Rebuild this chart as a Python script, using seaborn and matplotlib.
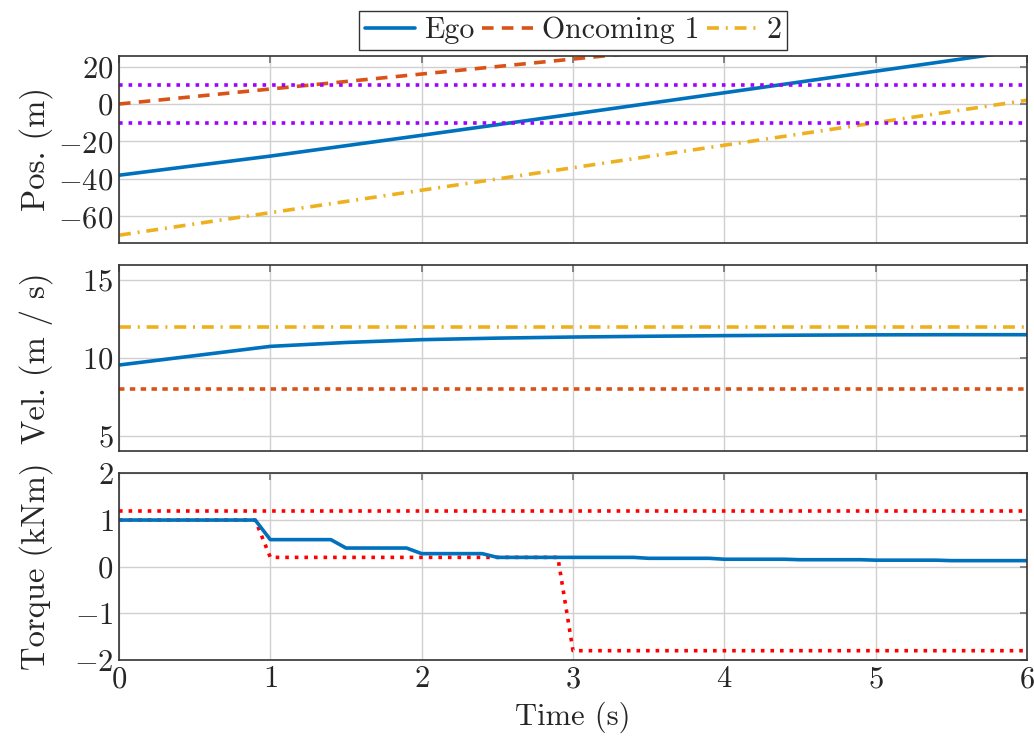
import numpy as np
import pandas as pd
import seaborn as sns
import matplotlib.pyplot as plt

# donnees
t_pos = [0, 1, 2, 3, 4, 5, 6]
pos_ego = [-38, -27.8, -16.7, -5.4, 6.0, 17.5, 29.0]
t_onc = [0, 6]
pos_onc1 = [0, 48]
pos_onc2 = [-70, 2]
pos_bounds = [10, -10]

t_vel = [0, 1, 1.5, 2, 2.5, 3, 3.5, 4, 4.5, 5, 5.5, 6]
vel_ego = [9.55, 10.75, 11.0, 11.18, 11.28, 11.35, 11.4, 11.44, 11.47, 11.49, 11.5, 11.5]
vel_onc1 = [8, 8]
vel_onc2 = [12, 12]

t_torque = [0, 0.9, 1.0, 1.4, 1.5, 1.9, 2.0, 2.4, 2.5, 3.4, 3.5, 3.9, 4.0, 4.4, 4.5, 4.9, 5.0, 5.4, 5.5, 6]
torque_ego = [1, 1, 0.58, 0.58, 0.4, 0.4, 0.28, 0.28, 0.2, 0.2, 0.18, 0.18, 0.16, 0.16, 0.15, 0.15, 0.14, 0.14, 0.13, 0.13]
t_low = [0, 0.9, 1.0, 2.9, 3.0, 6]
torque_low = [1, 1, 0.2, 0.2, -1.8, -1.8]
torque_high = [1.2, 1.2]

c_ego = '#0072BD'
c_onc1 = '#D95319'
c_onc2 = '#EDB120'
c_bound = '#A000FF'
c_red = '#FF0000'

fs = 22
fs_y = 23.5
sns.set_theme(style="whitegrid")
plt.rcParams['font.family'] = ['cmr10', 'DejaVu Serif']
plt.rcParams['mathtext.fontset'] = 'cm'
plt.rcParams['axes.formatter.use_mathtext'] = True
plt.rcParams['axes.unicode_minus'] = True
plt.rcParams['font.size'] = fs
plt.rcParams['axes.labelsize'] = fs
plt.rcParams['legend.fontsize'] = fs

fig, axes = plt.subplots(3, 1, figsize=(10.34, 7.48), dpi=100, sharex=True)
fig.subplots_adjust(left=0.1151, right=0.9932, top=0.9251, bottom=0.1176, hspace=0.118)

lw = 2.6
dash1 = (3.2, 2.3)
dashdot = (3.3, 1.9, 0.55, 1.9)

ax = axes[0]
sns.lineplot(x=t_pos, y=pos_ego, ax=ax, color=c_ego, lw=lw, label='Ego')
sns.lineplot(x=t_onc, y=pos_onc1, ax=ax, color=c_onc1, lw=lw, dashes=dash1, label='Oncoming 1')
sns.lineplot(x=t_onc, y=pos_onc2, ax=ax, color=c_onc2, lw=lw, dashes=dashdot, label='2')
for b in pos_bounds:
    ax.axhline(b, color=c_bound, lw=2.6, ls=':')
ax.set_ylim(-74, 25.6)
ax.set_yticks([-60, -40, -20, 0, 20])
ax.set_ylabel('Pos. (m)', fontsize=fs_y)
handles, labels = ax.get_legend_handles_labels()
ax.get_legend().remove()
ax.legend(handles, labels, loc='lower center', bbox_to_anchor=(0.5, 1.0), ncol=3,
          frameon=True, fancybox=False, edgecolor='#333333', framealpha=1,
          fontsize=21.5, handlelength=1.7, handletextpad=0.3, columnspacing=0.25,
          borderpad=0.2, borderaxespad=0.2)

ax = axes[1]
sns.lineplot(x=t_vel, y=vel_ego, ax=ax, color=c_ego, lw=lw)
sns.lineplot(x=t_onc, y=vel_onc1, ax=ax, color=c_onc1, lw=lw, dashes=(1.5, 1.5))
sns.lineplot(x=t_onc, y=vel_onc2, ax=ax, color=c_onc2, lw=lw, dashes=dashdot)
ax.set_ylim(4, 16)
ax.set_yticks([5, 10, 15])
ax.set_ylabel('Vel. (m / s)', fontsize=fs_y)

ax = axes[2]
sns.lineplot(x=t_low, y=torque_low, ax=ax, color=c_red, lw=2.6, ls=':')
sns.lineplot(x=t_onc, y=torque_high, ax=ax, color=c_red, lw=2.6, ls=':')
sns.lineplot(x=t_torque, y=torque_ego, ax=ax, color=c_ego, lw=lw)
ax.set_ylim(-2, 2)
ax.set_yticks([-2, -1, 0, 1, 2])
ax.set_ylabel('Torque (kNm)', fontsize=fs_y)
ax.set_xlabel('Time (s)', fontsize=fs, labelpad=6)
ax.set_xlim(0, 6)
ax.set_xticks(range(7))

for ax in axes:
    ax.grid(True, color='#d0d0d0', lw=1)
    for s in ax.spines.values():
        s.set_color('#333333')
        s.set_linewidth(1.2)
    ax.tick_params(direction='in', length=5, color='#777777', top=True, right=True,
                   labelsize=fs, pad=4)

fig.align_ylabels(axes)
fig.savefig('out.png', dpi=100)
